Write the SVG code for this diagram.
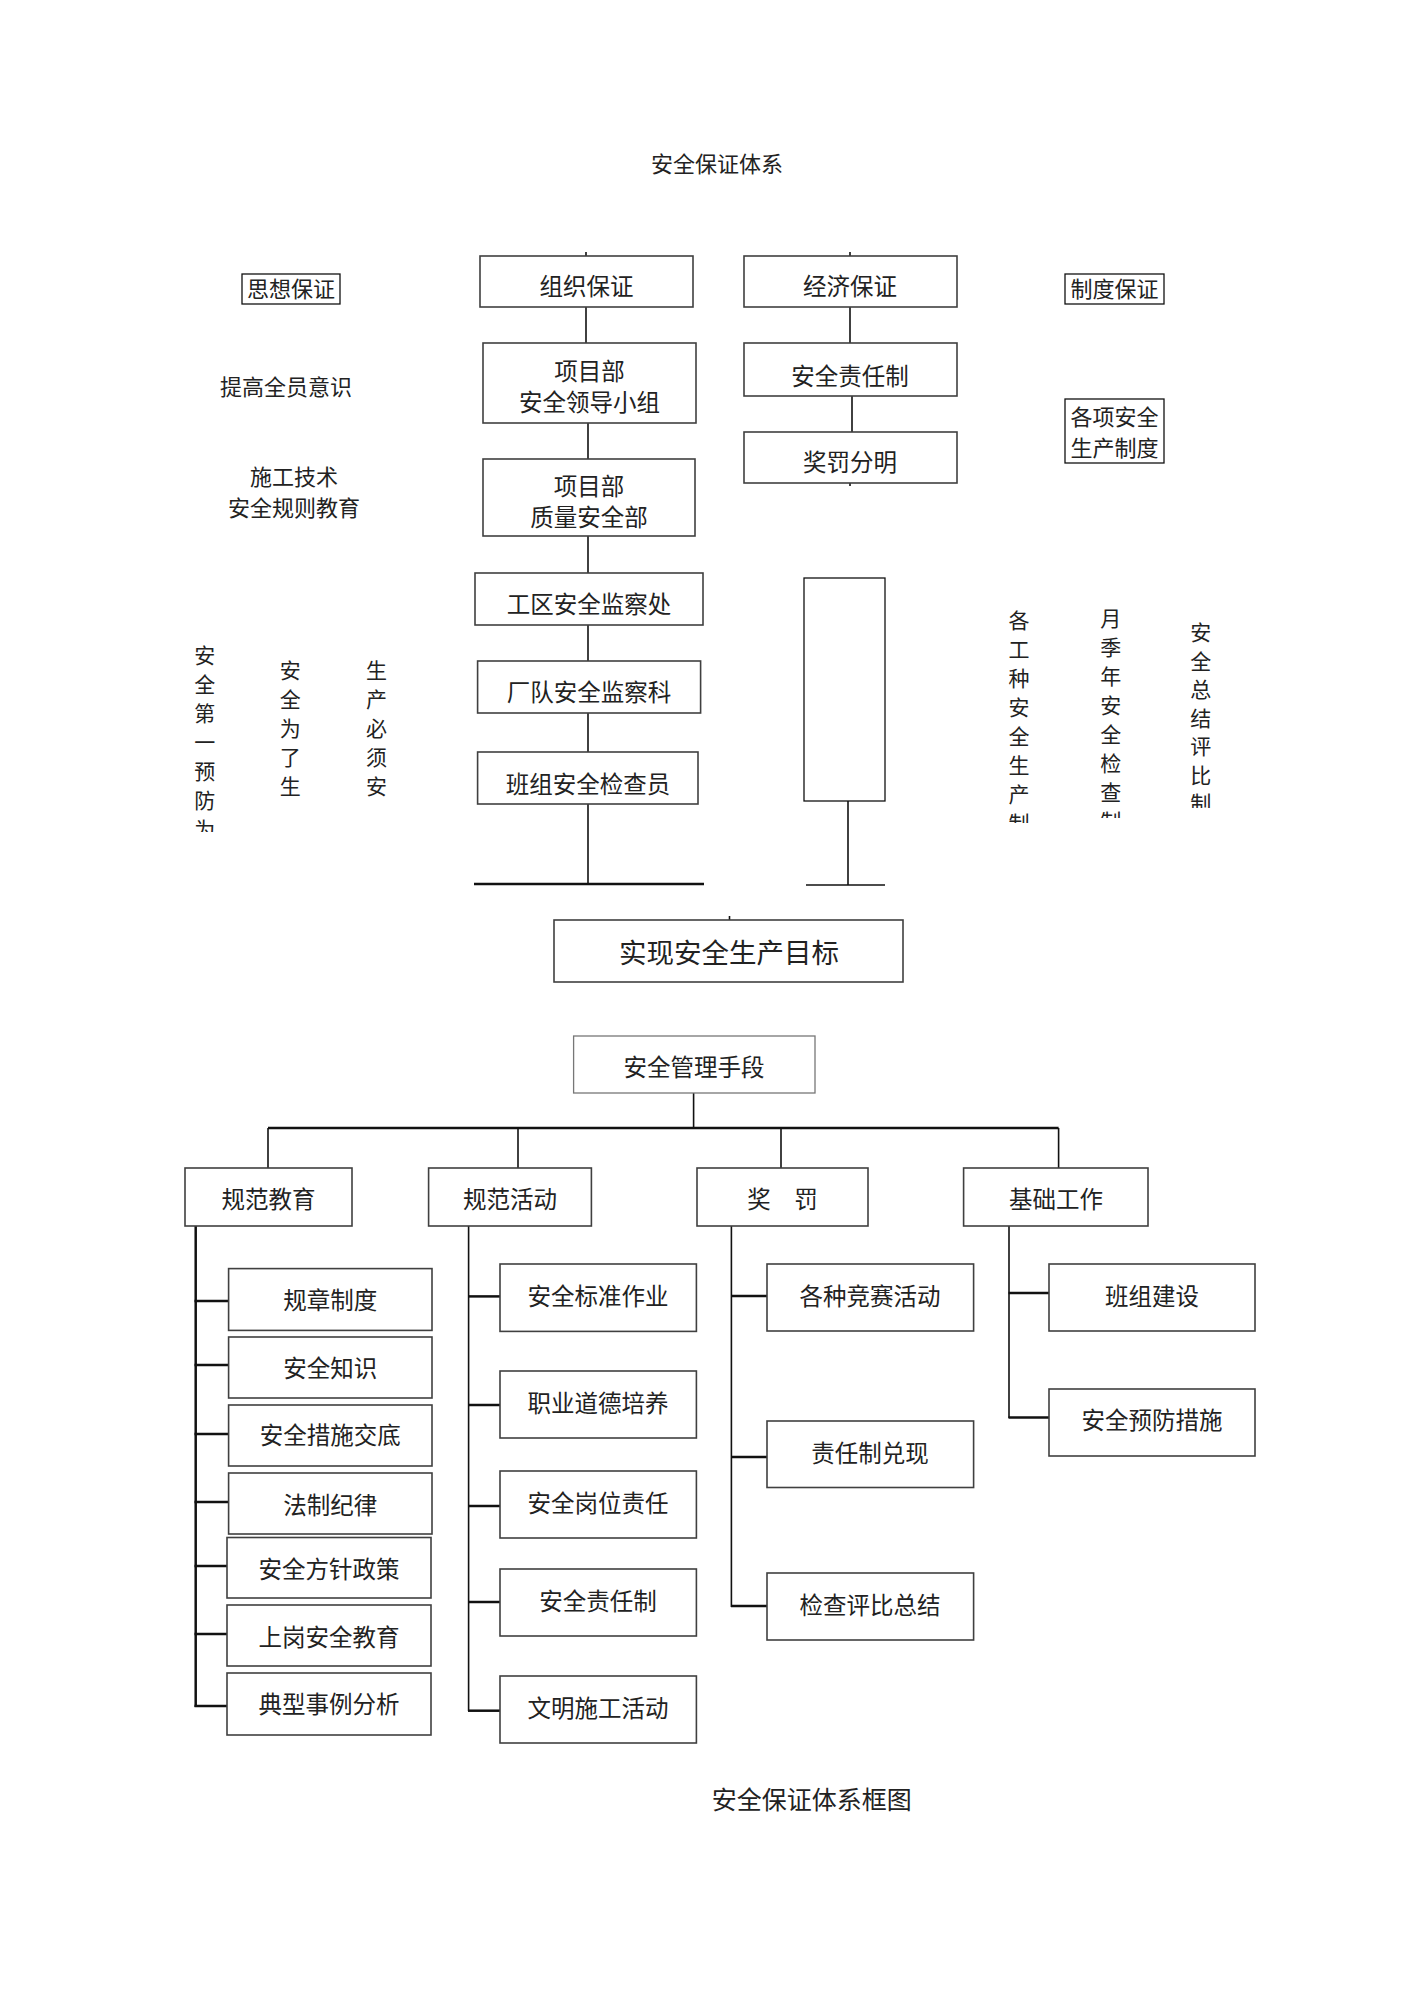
<svg xmlns="http://www.w3.org/2000/svg" width="1413" height="1998" viewBox="0 0 1413 1998">
<defs>
<style>
text{font-family:"Liberation Serif","Noto Sans CJK SC",serif;fill:#222;text-anchor:middle}
.t21{font-size:22px}
.t22{font-size:23.5px}
.t27{font-size:27.5px}
.t24{font-size:25px}
.box{fill:#fff;stroke:#404040;stroke-width:1.6}
.lbox{fill:#fff;stroke:#111;stroke-width:1.3}
.gbox{fill:#fff;stroke:#777;stroke-width:1.3}
.ln{stroke:#111;stroke-width:1.6;fill:none}
.thk{stroke:#111;stroke-width:2.5;fill:none}
.vt{font-size:21px}
</style>
<clipPath id="c1"><rect x="180" y="630" width="50" height="202"/></clipPath>
<clipPath id="c2"><rect x="995" y="600" width="50" height="223"/></clipPath>
<clipPath id="c3"><rect x="1085" y="600" width="50" height="218"/></clipPath>
<clipPath id="c4"><rect x="1175" y="600" width="50" height="208"/></clipPath>
</defs>
<rect width="1413" height="1998" fill="#fff"/>

<text class="t21" x="717" y="172">安全保证体系</text>

<g id="connectors">
<line class="ln" x1="586" y1="252" x2="586" y2="256"/>
<line class="ln" x1="850" y1="252" x2="850" y2="256"/>
<line class="ln" x1="586" y1="307" x2="586" y2="343"/>
<line class="ln" x1="850" y1="307" x2="850" y2="343"/>
<line class="ln" x1="852" y1="396" x2="852" y2="432"/>
<line class="ln" x1="850" y1="483" x2="850" y2="486"/>
<line class="ln" x1="588" y1="423" x2="588" y2="459"/>
<line class="ln" x1="588" y1="536" x2="588" y2="573"/>
<line class="ln" x1="588" y1="625" x2="588" y2="661"/>
<line class="ln" x1="588" y1="713" x2="588" y2="752"/>
<line class="ln" x1="588" y1="804" x2="588" y2="884"/>
<line class="thk" x1="474" y1="884" x2="704" y2="884"/>
<line class="ln" x1="848" y1="801" x2="848" y2="885"/>
<line class="ln" x1="806" y1="885" x2="885" y2="885"/>
<line class="ln" x1="729.5" y1="916" x2="729.5" y2="920"/>

<line class="ln" x1="693.6" y1="1093" x2="693.6" y2="1128"/>
<line class="thk" x1="268" y1="1128" x2="1058.6" y2="1128"/>
<line class="ln" x1="268" y1="1128" x2="268" y2="1168"/>
<line class="ln" x1="518" y1="1128" x2="518" y2="1168"/>
<line class="ln" x1="781" y1="1128" x2="781" y2="1168"/>
<line class="ln" x1="1058.6" y1="1128" x2="1058.6" y2="1168"/>

<line class="thk" x1="195.7" y1="1226" x2="195.7" y2="1707"/>
<line class="thk" x1="194.5" y1="1301" x2="228.6" y2="1301"/>
<line class="thk" x1="194.5" y1="1365" x2="228.6" y2="1365"/>
<line class="thk" x1="194.5" y1="1434" x2="228.6" y2="1434"/>
<line class="thk" x1="194.5" y1="1502" x2="228.6" y2="1502"/>
<line class="thk" x1="194.5" y1="1566" x2="228.6" y2="1566"/>
<line class="thk" x1="194.5" y1="1634" x2="228.6" y2="1634"/>
<line class="thk" x1="194.5" y1="1706" x2="228.6" y2="1706"/>

<line class="ln" x1="468.6" y1="1226" x2="468.6" y2="1711"/>
<line class="thk" x1="468" y1="1296.4" x2="500" y2="1296.4"/>
<line class="thk" x1="468" y1="1405" x2="500" y2="1405"/>
<line class="thk" x1="468" y1="1506" x2="500" y2="1506"/>
<line class="thk" x1="468" y1="1602" x2="500" y2="1602"/>
<line class="thk" x1="468" y1="1710.7" x2="500" y2="1710.7"/>

<line class="ln" x1="731.4" y1="1226" x2="731.4" y2="1607"/>
<line class="thk" x1="731" y1="1296" x2="767" y2="1296"/>
<line class="thk" x1="731" y1="1457" x2="767" y2="1457"/>
<line class="thk" x1="731" y1="1606" x2="767" y2="1606"/>

<line class="ln" x1="1009" y1="1226" x2="1009" y2="1418"/>
<line class="thk" x1="1008.5" y1="1293" x2="1049" y2="1293"/>
<line class="thk" x1="1008.5" y1="1417.5" x2="1049" y2="1417.5"/>
</g>

<g id="n-sixiang"><rect class="lbox" x="242" y="274" width="98" height="30"/><text class="t21" x="291" y="297">思想保证</text></g>
<g id="n-zuzhi"><rect class="box" x="480" y="256" width="213" height="51"/><text class="t22" x="586.5" y="295">组织保证</text></g>
<g id="n-jingji"><rect class="box" x="744" y="256" width="213" height="51"/><text class="t22" x="850" y="295">经济保证</text></g>
<g id="n-zhidu"><rect class="lbox" x="1065" y="274" width="99" height="30"/><text class="t21" x="1114.5" y="297">制度保证</text></g>
<g id="n-lingdao"><rect class="box" x="483" y="343" width="213" height="80"/><text class="t22" x="589.5" y="380">项目部</text><text class="t22" x="589.5" y="411">安全领导小组</text></g>
<g id="n-zerenzhi"><rect class="box" x="744" y="343" width="213" height="53"/><text class="t22" x="850" y="385">安全责任制</text></g>
<g id="n-jiangfa"><rect class="box" x="744" y="432" width="213" height="51"/><text class="t22" x="850" y="471">奖罚分明</text></g>
<g id="n-tigao"><text class="t21" x="286" y="395">提高全员意识</text></g>
<g id="n-gexiang"><rect class="lbox" x="1065" y="399" width="99" height="64"/><text class="t21" x="1114.5" y="425">各项安全</text><text class="t21" x="1114.5" y="456">生产制度</text></g>
<g id="n-zhiliang"><rect class="box" x="483" y="459" width="212" height="77"/><text class="t22" x="589" y="495">项目部</text><text class="t22" x="589" y="526">质量安全部</text></g>
<g id="n-shigong"><text class="t21" x="294" y="485">施工技术</text><text class="t21" x="294" y="516">安全规则教育</text></g>
<g id="n-gongqu"><rect class="box" x="475" y="573" width="228" height="52"/><text class="t22" x="589" y="613">工区安全监察处</text></g>
<g id="n-changdui"><rect class="box" x="477.6" y="661" width="223" height="52"/><text class="t22" x="589" y="701">厂队安全监察科</text></g>
<g id="n-banzu"><rect class="box" x="477.6" y="752" width="220.4" height="52"/><text class="t22" x="588" y="793">班组安全检查员</text></g>
<g id="n-blank"><rect class="lbox" x="804" y="578" width="81" height="223"/></g>

<g id="n-v1" clip-path="url(#c1)"><text class="vt"><tspan x="204.7" y="663">安</tspan><tspan x="204.7" dy="29">全</tspan><tspan x="204.7" dy="29">第</tspan><tspan x="204.7" dy="29">一</tspan><tspan x="204.7" dy="29">预</tspan><tspan x="204.7" dy="29">防</tspan><tspan x="204.7" dy="29">为</tspan></text></g>
<g id="n-v2"><text class="vt"><tspan x="290.3" y="678">安</tspan><tspan x="290.3" dy="29">全</tspan><tspan x="290.3" dy="29">为</tspan><tspan x="290.3" dy="29">了</tspan><tspan x="290.3" dy="29">生</tspan></text></g>
<g id="n-v3"><text class="vt"><tspan x="376.6" y="678">生</tspan><tspan x="376.6" dy="29">产</tspan><tspan x="376.6" dy="29">必</tspan><tspan x="376.6" dy="29">须</tspan><tspan x="376.6" dy="29">安</tspan></text></g>
<g id="n-v4" clip-path="url(#c2)"><text class="vt"><tspan x="1019" y="628">各</tspan><tspan x="1019" dy="29">工</tspan><tspan x="1019" dy="29">种</tspan><tspan x="1019" dy="29">安</tspan><tspan x="1019" dy="29">全</tspan><tspan x="1019" dy="29">生</tspan><tspan x="1019" dy="29">产</tspan><tspan x="1019" dy="29">制</tspan></text></g>
<g id="n-v5" clip-path="url(#c3)"><text class="vt"><tspan x="1110.7" y="626">月</tspan><tspan x="1110.7" dy="29">季</tspan><tspan x="1110.7" dy="29">年</tspan><tspan x="1110.7" dy="29">安</tspan><tspan x="1110.7" dy="29">全</tspan><tspan x="1110.7" dy="29">检</tspan><tspan x="1110.7" dy="29">查</tspan><tspan x="1110.7" dy="29">制</tspan></text></g>
<g id="n-v6" clip-path="url(#c4)"><text class="vt"><tspan x="1200.7" y="640">安</tspan><tspan x="1200.7" dy="28.5">全</tspan><tspan x="1200.7" dy="28.5">总</tspan><tspan x="1200.7" dy="28.5">结</tspan><tspan x="1200.7" dy="28.5">评</tspan><tspan x="1200.7" dy="28.5">比</tspan><tspan x="1200.7" dy="28.5">制</tspan></text></g>

<g id="n-mubiao"><rect class="box" x="554" y="920" width="349" height="62"/><text class="t27" x="729" y="963">实现安全生产目标</text></g>

<g id="n-guanli"><rect class="gbox" x="573.6" y="1036" width="241.4" height="57"/><text class="t22" x="694" y="1076">安全管理手段</text></g>
<g id="n-jiaoyu"><rect class="box" x="185" y="1168" width="167" height="58"/><text class="t22" x="268.5" y="1208">规范教育</text></g>
<g id="n-huodong"><rect class="box" x="428.6" y="1168" width="162.8" height="58"/><text class="t22" x="510" y="1208">规范活动</text></g>
<g id="n-jiangfa2"><rect class="box" x="697" y="1168" width="171" height="58"/><text class="t22" x="782.5" y="1208">奖　罚</text></g>
<g id="n-jichu"><rect class="box" x="963.6" y="1168" width="184.4" height="58"/><text class="t22" x="1056" y="1208">基础工作</text></g>

<g id="n-a1"><rect class="box" x="228.6" y="1268.6" width="203.4" height="61.8"/><text class="t22" x="330.3" y="1309">规章制度</text></g>
<g id="n-a2"><rect class="box" x="228.6" y="1337" width="203.4" height="61"/><text class="t22" x="330.3" y="1376.5">安全知识</text></g>
<g id="n-a3"><rect class="box" x="228.6" y="1405" width="203.4" height="61"/><text class="t22" x="330.3" y="1444">安全措施交底</text></g>
<g id="n-a4"><rect class="box" x="228.6" y="1473" width="203.4" height="61"/><text class="t22" x="330.3" y="1514">法制纪律</text></g>
<g id="n-a5"><rect class="box" x="227" y="1537.5" width="204" height="60.5"/><text class="t22" x="329" y="1578">安全方针政策</text></g>
<g id="n-a6"><rect class="box" x="227" y="1605" width="204" height="61"/><text class="t22" x="329" y="1645.5">上岗安全教育</text></g>
<g id="n-a7"><rect class="box" x="227" y="1673" width="204" height="62"/><text class="t22" x="329" y="1713">典型事例分析</text></g>

<g id="n-b1"><rect class="box" x="500" y="1264" width="196.4" height="67.4"/><text class="t22" x="598" y="1305">安全标准作业</text></g>
<g id="n-b2"><rect class="box" x="500" y="1371" width="196.4" height="67"/><text class="t22" x="598" y="1412">职业道德培养</text></g>
<g id="n-b3"><rect class="box" x="500" y="1471" width="196.4" height="67"/><text class="t22" x="598" y="1512">安全岗位责任</text></g>
<g id="n-b4"><rect class="box" x="500" y="1569" width="196.4" height="67"/><text class="t22" x="598" y="1610">安全责任制</text></g>
<g id="n-b5"><rect class="box" x="500" y="1676" width="196.4" height="67"/><text class="t22" x="598" y="1717">文明施工活动</text></g>

<g id="n-c1"><rect class="box" x="767" y="1264" width="206.6" height="67"/><text class="t22" x="870" y="1305">各种竞赛活动</text></g>
<g id="n-c2"><rect class="box" x="767" y="1421" width="206.6" height="66.5"/><text class="t22" x="870" y="1461.6">责任制兑现</text></g>
<g id="n-c3"><rect class="box" x="767" y="1573" width="206.6" height="67"/><text class="t22" x="870" y="1614">检查评比总结</text></g>

<g id="n-d1"><rect class="box" x="1049" y="1264" width="206" height="67"/><text class="t22" x="1152" y="1305">班组建设</text></g>
<g id="n-d2"><rect class="box" x="1049" y="1389" width="206" height="67"/><text class="t22" x="1152" y="1429">安全预防措施</text></g>

<text class="t24" x="811.7" y="1809">安全保证体系框图</text>
</svg>
